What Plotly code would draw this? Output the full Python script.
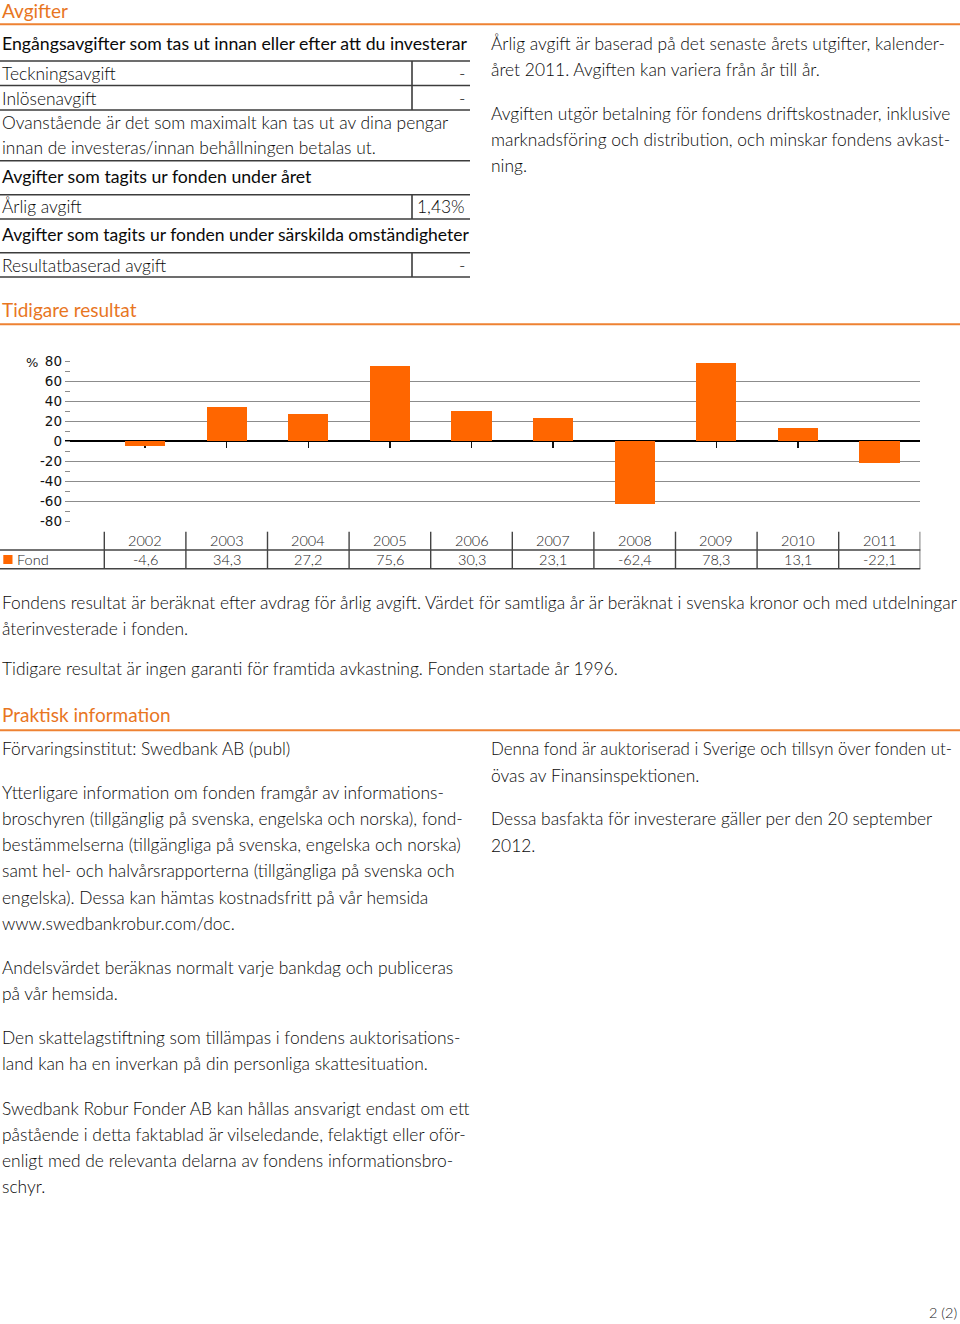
import plotly.graph_objects as go

W, H = 960, 1324

# ---------------- data ----------------
years = ["2002", "2003", "2004", "2005", "2006", "2007", "2008", "2009", "2010", "2011"]
fond = [-4.6, 34.3, 27.2, 75.6, 30.3, 23.1, -62.4, 78.3, 13.1, -22.1]
y_ticks = [80, 60, 40, 20, 0, -20, -40, -60, -80]
series_name = "Fond"

fee_rows = [
    ("Teckningsavgift", "-"),
    ("Inlösenavgift", "-"),
    ("Årlig avgift", "1,43%"),
    ("Resultatbaserad avgift", "-"),
]

# ---------------- styles ----------------
ORANGE_T = "#E8761F"
ORANGE_L = "#EE8233"
BAR = "#FF6600"
TXT = "#0a0a0a"
RULE = "#3c3c3c"
BODY = "Lato"
BODY_SIZE = 17.4
HEAD_SIZE = 17.7


def px(x, y):
    return x / W, 1 - y / H


annotations = []
shapes = []


def text(s, x, baseline, size=BODY_SIZE, color=TXT, weight=300, anchor="left", family=BODY):
    cx, cy = px(x, baseline - 0.36 * size)
    annotations.append(dict(
        text=s, x=cx, y=cy, xref="paper", yref="paper", showarrow=False,
        xanchor=anchor, yanchor="middle", borderpad=0,
        font=dict(family=family, size=size, color=color, weight=weight)))


def hline(y, x0, x1, color=RULE, width=1.6):
    a0, b = px(x0, y)
    a1, _ = px(x1, y)
    shapes.append(dict(type="line", xref="paper", yref="paper", x0=a0, x1=a1, y0=b, y1=b,
                       line=dict(color=color, width=width)))


def vline(x, y0, y1, color=RULE, width=1.6):
    a, b0 = px(x, y0)
    _, b1 = px(x, y1)
    shapes.append(dict(type="line", xref="paper", yref="paper", x0=a, x1=a, y0=b0, y1=b1,
                       line=dict(color=color, width=width)))


# ---------------- section: Avgifter ----------------
text("Avgifter", 1, 17.5, size=19, color=ORANGE_T, weight=400)
hline(24.3, 0, 960, color=ORANGE_L, width=2)

text("Engångsavgifter som tas ut innan eller efter att du investerar", 1, 50, size=HEAD_SIZE, weight=400)
hline(61, 0, 470)
text(fee_rows[0][0], 1, 80)
text(fee_rows[0][1], 466, 80, anchor="right")
hline(85.5, 0, 470)
text(fee_rows[1][0], 1, 104.3)
text(fee_rows[1][1], 466, 104.3, anchor="right")
hline(110, 0, 470)
vline(412, 61, 110)
text("Ovanstående är det som maximalt kan tas ut av dina pengar", 1, 128.3)
text("innan de investeras/innan behållningen betalas ut.", 1, 154)
hline(160.7, 0, 470)
text("Avgifter som tagits ur fonden under året", 1, 183.3, size=HEAD_SIZE, weight=400)
hline(194.7, 0, 470)
text(fee_rows[2][0], 1, 212.7)
text(fee_rows[2][1], 466, 212.7, anchor="right")
hline(219, 0, 470)
vline(412, 194.7, 219)
text("Avgifter som tagits ur fonden under särskilda omständigheter", 1, 240.7, size=HEAD_SIZE - 0.2, weight=400)
hline(252.7, 0, 470)
text(fee_rows[3][0], 1, 271.7)
text(fee_rows[3][1], 466, 271.7, anchor="right")
hline(277, 0, 470)
vline(412, 252.7, 277)

right_col = [
    ("Årlig avgift är baserad på det senaste årets utgifter, kalender-", 50),
    ("året 2011. Avgiften kan variera från år till år.", 76),
    ("Avgiften utgör betalning för fondens driftskostnader, inklusive", 120),
    ("marknadsföring och distribution, och minskar fondens avkast-", 146),
    ("ning.", 171.7),
]
for s, b in right_col:
    text(s, 490, b)

# ---------------- section: Tidigare resultat ----------------
text("Tidigare resultat", 1, 316.5, size=19, color=ORANGE_T, weight=400)
hline(324.3, 0, 960, color=ORANGE_L, width=2)

# chart geometry (pixels)
PL, PR = 65.0, 920.3
Y_TOP, Y_BOT = 361.3, 521.3
COL0 = 104.3
CAT_W = (PR - COL0) / len(years)
x_left = -0.5 - (COL0 - PL) / CAT_W
x_right = len(years) - 0.5

ydom = [1 - Y_BOT / H, 1 - Y_TOP / H]
zero_paper = ydom[0] + (ydom[1] - ydom[0]) * (0 - (-80)) / 160

text("%", 32, 367, size=13, color="#111", weight=400, family="DejaVu Sans", anchor="center")

# data table under the chart
T_TOP, T_MID, T_BOT = 531.7, 550, 568.7
for i in range(len(years) + 1):
    xv = i - 0.5
    shapes.append(dict(type="line", xref="x", yref="paper", x0=xv, x1=xv,
                       y0=1 - T_TOP / H, y1=1 - T_BOT / H,
                       line=dict(color="#444", width=1.4)))
hline(T_MID, 0, PR, color="#444", width=1.4)
hline(T_BOT, 0, PR, color="#444", width=1.4)

for i, (yr, v) in enumerate(zip(years, fond)):
    annotations.append(dict(text=yr, x=i, xref="x", y=1 - 540.5 / H, yref="paper",
                            showarrow=False, xanchor="center", yanchor="middle",
                            font=dict(family=BODY, size=14.5, color="#222", weight=300)))
    annotations.append(dict(text=f"{v:.1f}".replace(".", ","), x=i, xref="x",
                            y=1 - 559.5 / H, yref="paper",
                            showarrow=False, xanchor="center", yanchor="middle",
                            font=dict(family=BODY, size=14.5, color="#222", weight=300)))

# legend swatch + label
a0, b0 = px(3.3, 555)
a1, b1 = px(12.5, 564)
shapes.append(dict(type="rect", xref="paper", yref="paper", x0=a0, x1=a1, y0=b1, y1=b0,
                   fillcolor=BAR, line=dict(width=0)))
text(series_name, 16, 564.5, size=14.5, color="#222", weight=300)

# ---------------- text below chart ----------------
text("Fondens resultat är beräknat efter avdrag för årlig avgift. Värdet för samtliga år är beräknat i svenska kronor och med utdelningar", 1, 608.3)
text("återinvesterade i fonden.", 1, 634.8)
text("Tidigare resultat är ingen garanti för framtida avkastning. Fonden startade år 1996.", 1, 674.5)

# ---------------- section: Praktisk information ----------------
text("Praktisk information", 1, 721, size=19, color=ORANGE_T, weight=400)
hline(730.3, 0, 960, color=ORANGE_L, width=2)

left_lines = [
    ("Förvaringsinstitut: Swedbank AB (publ)", 755),
    ("Ytterligare information om fonden framgår av informations-", 798.3),
    ("broschyren (tillgänglig på svenska, engelska och norska), fond-", 824.6),
    ("bestämmelserna (tillgängliga på svenska, engelska och norska)", 850.9),
    ("samt hel- och halvårsrapporterna (tillgängliga på svenska och", 877.2),
    ("engelska). Dessa kan hämtas kostnadsfritt på vår hemsida", 903.5),
    ("www.swedbankrobur.com/doc.", 929.8),
    ("Andelsvärdet beräknas normalt varje bankdag och publiceras", 973.5),
    ("på vår hemsida.", 999.8),
    ("Den skattelagstiftning som tillämpas i fondens auktorisations-", 1043.5),
    ("land kan ha en inverkan på din personliga skattesituation.", 1069.8),
    ("Swedbank Robur Fonder AB kan hållas ansvarigt endast om ett", 1115),
    ("påstående i detta faktablad är vilseledande, felaktigt eller oför-", 1140.7),
    ("enligt med de relevanta delarna av fondens informationsbro-", 1166.7),
    ("schyr.", 1192.5),
]
for s, b in left_lines:
    text(s, 1, b)

right_lines = [
    ("Denna fond är auktoriserad i Sverige och tillsyn över fonden ut-", 755, 16.9),
    ("övas av Finansinspektionen.", 781.3, BODY_SIZE),
    ("Dessa basfakta för investerare gäller per den 20 september", 825, BODY_SIZE),
    ("2012.", 851.3, BODY_SIZE),
]
for s, b, sz in right_lines:
    text(s, 490, b, size=sz)

text("2 (2)", 958, 1318, size=14.5, color="#222", anchor="right")

# ---------------- figure ----------------
fig = go.Figure()
fig.add_trace(go.Bar(
    x=list(range(len(years))), y=fond, width=0.494, name=series_name,
    marker=dict(color=BAR, line=dict(width=0)), hoverinfo="skip",
))

fig.update_layout(
    width=W, height=H,
    margin=dict(l=0, r=0, t=0, b=0, pad=0, autoexpand=False),
    paper_bgcolor="white", plot_bgcolor="white",
    showlegend=False,
    font=dict(family=BODY, color=TXT),
    bargap=0,
    xaxis=dict(
        domain=[PL / W, PR / W], range=[x_left, x_right],
        tickvals=list(range(len(years))), showticklabels=False,
        ticks="outside", ticklen=6, tickwidth=1.5, tickcolor="#111",
        showgrid=False, zeroline=False, showline=False,
        anchor="free", position=zero_paper, layer="below traces",
        fixedrange=True,
    ),
    yaxis=dict(
        domain=ydom, range=[-80, 80],
        tickvals=y_ticks, ticktext=[str(t) for t in y_ticks],
        ticks="", showgrid=True, gridcolor="#8c8c8c", gridwidth=1.5,
        zeroline=True, zerolinecolor="#000", zerolinewidth=2,
        showline=False,
        minor=dict(dtick=10, tick0=0, ticks="inside", ticklen=5, tickwidth=1, tickcolor="#8c8c8c", showgrid=False),
        tickfont=dict(family="DejaVu Sans", size=13.5, color="#111"),
        ticklabelstandoff=2,
        fixedrange=True,
    ),
    annotations=annotations,
    shapes=shapes,
)

fig.write_html(
    "out.html",
    config={"displayModeBar": False, "staticPlot": True},
    post_script="document.body.style.margin='0';document.body.style.padding='0';document.body.style.overflow='hidden';",
)
